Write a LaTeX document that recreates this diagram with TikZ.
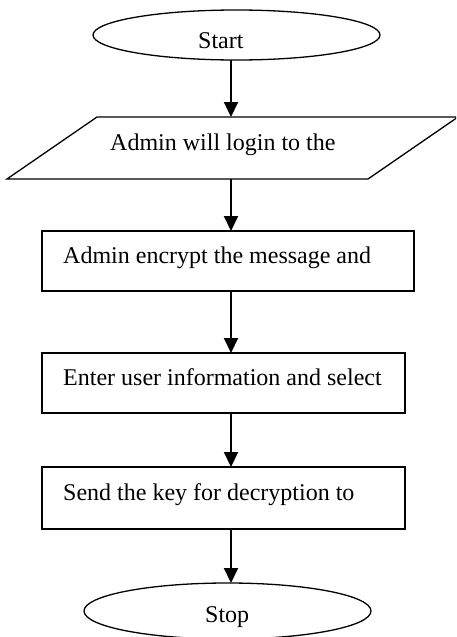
\documentclass[tikz,border=0pt]{standalone}
\usepackage{fontspec}
\setmainfont{Liberation Serif}
\usetikzlibrary{arrows.meta,shapes.geometric}
\begin{document}
\begin{tikzpicture}[x=1pt,y=-1pt,
  boxline/.style={draw=black,line width=1.3pt},
  termbox/.style={boxline,ellipse,inner sep=0pt,outer sep=0pt},
  procbox/.style={boxline,rectangle,inner sep=0pt,outer sep=0pt},
  lbl/.style={inner sep=0pt,anchor=base west,font=\fontsize{24}{28}\selectfont},
  arr/.style={line width=2pt,-{Triangle[width=14pt,length=15pt]}}]
\useasboundingbox (0,0) rectangle (456,637);
\clip (0,0) rectangle (456,637);
% shapes
\node[termbox,minimum width=287pt,minimum height=50pt] (start) at (236.5,35) {};
\node[draw=none,minimum width=361pt,minimum height=62pt,inner sep=0pt,outer sep=0pt] (login) at (231.5,148) {};
\draw[boxline,line join=miter] (7,179) -- (97,117) -- (458,117) -- (368,179) -- cycle;
\node[procbox,minimum width=372pt,minimum height=60pt] (encrypt) at (228,261) {};
\node[procbox,minimum width=363pt,minimum height=60pt] (enter) at (223.5,383) {};
\node[procbox,minimum width=363pt,minimum height=62pt] (send) at (223.5,498) {};
\node[termbox,minimum width=287pt,minimum height=56pt] (stop) at (227.5,611) {};
% texts
\node[lbl] (tstart) at (198,48) {Start};
\node[lbl] (tlogin) at (110,150) {Admin will login to the};
\node[lbl] (tencrypt) at (63,263) {Admin encrypt the message and};
\node[lbl] (tenter) at (63,385) {Enter user information and select};
\node[lbl] (tsend) at (63,500) {Send the key for decryption to};
\node[lbl] (tstop) at (205,622) {Stop};
% connectors
\coordinate (ax) at (231,0);
\draw[arr] (start.south -| ax) -- (login.north -| ax);
\draw[arr] (login.south -| ax) -- (encrypt.north -| ax);
\draw[arr] (encrypt.south -| ax) -- (enter.north -| ax);
\draw[arr] (enter.south -| ax) -- (send.north -| ax);
\draw[arr] (send.south -| ax) -- (stop.north -| ax);
\end{tikzpicture}
\end{document}
